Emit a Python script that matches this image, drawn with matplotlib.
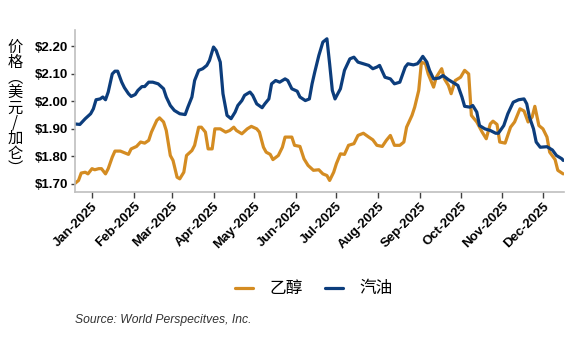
import matplotlib
matplotlib.use("Agg")
import matplotlib.pyplot as plt
import matplotlib.dates as mdates
import pandas as pd

plt.rcParams["font.family"] = ["Liberation Sans", "Noto Sans CJK SC"]

# days counted from 2025-01-01, values in $/gal
gas_days = [-13, -9, -5, -1, 1, 3, 6, 8, 10, 12, 15, 17, 19, 22, 24, 27, 29, 32, 34, 37,
            39, 42, 45, 49, 53, 55, 58, 61, 65, 69, 71, 74, 76, 79, 82, 85, 87, 90, 92, 95,
            97, 100, 103, 106, 108, 111, 113, 117, 119, 122, 126, 128, 131, 133, 136, 139,
            143, 145, 148, 152, 154, 158, 161, 163, 165, 168, 171, 174, 176, 178, 180, 184,
            187, 191, 194, 197, 201, 205, 208, 211, 213, 217, 221, 224, 228, 232, 234, 238,
            241, 243, 245, 248, 250, 253, 257, 260, 264, 268, 271, 274, 276, 280, 282, 285,
            287, 291, 295, 299, 301, 305, 308, 312, 316, 320, 322, 324, 327, 329, 332, 337,
            341, 344, 348, 349]
gas_price = [1.918, 1.916, 1.937, 1.955, 1.973, 2.006, 2.009, 2.016, 2.006, 2.034, 2.100,
             2.110, 2.110, 2.070, 2.050, 2.028, 2.018, 2.025, 2.040, 2.054, 2.054, 2.070,
             2.070, 2.064, 2.046, 2.016, 1.985, 1.967, 1.955, 1.952, 1.979, 2.016, 2.076,
             2.113, 2.119, 2.131, 2.149, 2.198, 2.185, 2.143, 2.028, 1.949, 1.937, 1.961,
             1.985, 2.003, 2.022, 2.034, 2.022, 1.991, 1.977, 1.991, 2.009, 2.064, 2.076,
             2.070, 2.082, 2.076, 2.046, 2.037, 2.016, 2.003, 2.009, 2.064, 2.107, 2.167,
             2.216, 2.228, 2.137, 2.040, 2.009, 2.046, 2.113, 2.155, 2.161, 2.143, 2.137,
             2.131, 2.119, 2.125, 2.131, 2.088, 2.082, 2.064, 2.070, 2.125, 2.137, 2.133,
             2.137, 2.149, 2.164, 2.143, 2.113, 2.082, 2.085, 2.094, 2.079, 2.067, 2.058,
             2.016, 1.982, 1.979, 1.985, 1.961, 1.912, 1.900, 1.894, 1.884, 1.884, 1.912,
             1.955, 1.997, 2.006, 2.009, 1.991, 1.943, 1.900, 1.852, 1.833, 1.835, 1.823,
             1.803, 1.791, 1.785]

eth_days = [-13, -10, -8, -5, -3, 0, 2, 5, 7, 10, 12, 15, 17, 21, 23, 27, 29, 33, 36, 39,
            42, 44, 48, 50, 53, 55, 58, 60, 63, 65, 68, 70, 74, 76, 79, 81, 84, 86, 89, 91,
            95, 99, 102, 105, 107, 111, 115, 118, 122, 124, 127, 129, 132, 134, 138, 141,
            143, 148, 150, 154, 157, 160, 164, 168, 171, 174, 176, 179, 181, 184, 187, 190,
            194, 197, 201, 205, 208, 211, 215, 218, 221, 224, 228, 231, 233, 237, 239, 242,
            244, 247, 249, 253, 255, 259, 261, 264, 266, 269, 273, 276, 279, 281, 285, 289,
            292, 295, 297, 300, 302, 306, 310, 313, 317, 320, 323, 326, 328, 331, 334, 337,
            339, 343, 345, 349]
eth_price = [1.700, 1.712, 1.739, 1.742, 1.736, 1.755, 1.751, 1.755, 1.755, 1.736, 1.755,
             1.797, 1.819, 1.819, 1.815, 1.807, 1.827, 1.836, 1.852, 1.848, 1.858, 1.888,
             1.931, 1.940, 1.925, 1.894, 1.803, 1.785, 1.724, 1.718, 1.742, 1.803, 1.821,
             1.840, 1.906, 1.906, 1.888, 1.827, 1.827, 1.900, 1.900, 1.888, 1.894, 1.906,
             1.894, 1.882, 1.900, 1.909, 1.900, 1.888, 1.833, 1.815, 1.807, 1.788, 1.803,
             1.833, 1.870, 1.870, 1.840, 1.836, 1.791, 1.767, 1.749, 1.751, 1.736, 1.730,
             1.712, 1.742, 1.773, 1.809, 1.807, 1.840, 1.846, 1.876, 1.884, 1.870, 1.860,
             1.840, 1.836, 1.858, 1.876, 1.840, 1.840, 1.852, 1.906, 1.949, 1.979, 2.040,
             2.143, 2.137, 2.100, 2.052, 2.088, 2.119, 2.082, 2.058, 2.028, 2.076, 2.088,
             2.113, 2.100, 1.949, 1.925, 1.888, 1.864, 1.918, 1.928, 1.916, 1.852, 1.848,
             1.906, 1.925, 1.973, 1.965, 1.925, 1.943, 1.982, 1.912, 1.900, 1.870, 1.815,
             1.788, 1.749, 1.736]

y_ticks = [1.70, 1.80, 1.90, 2.00, 2.10, 2.20]
series_labels = ["乙醇", "汽油"]
# vertical axis title, one glyph per row (vertical-form brackets)
ylabel_chars = ["价", "格", "︵", "美", "元", "/", "加", "仑", "︶"]
source_note = "Source: World Perspecitves, Inc."

ETH_COLOR = "#D48C22"
GAS_COLOR = "#0C3D7C"
SPINE = "#BFBFBF"

base = pd.Timestamp("2025-01-01")
gas_x = base + pd.to_timedelta(gas_days, unit="D")
eth_x = base + pd.to_timedelta(eth_days, unit="D")

W, H = 574, 353
fig = plt.figure(figsize=(W / 100, H / 100), dpi=100)
ax = fig.add_axes([75 / W, 1 - 192 / H, (564 - 75) / W, (192 - 30) / H])

ax.plot(eth_x, eth_price, color=ETH_COLOR, lw=2.3, label=series_labels[0],
        solid_joinstyle="round", solid_capstyle="round")
ax.plot(gas_x, gas_price, color=GAS_COLOR, lw=2.3, label=series_labels[1],
        solid_joinstyle="round", solid_capstyle="round")

ax.set_xlim(base + pd.Timedelta(days=-12.6), base + pd.Timedelta(days=349.6))
ax.set_ylim(1.67, 2.26)

ax.set_yticks(y_ticks)
ax.set_yticklabels([f"${v:.2f}" for v in y_ticks], fontsize=9.5, fontweight="bold")

ax.xaxis.set_major_locator(mdates.MonthLocator())
ax.xaxis.set_major_formatter(mdates.DateFormatter("%b-%Y"))
for lbl in ax.get_xticklabels():
    lbl.set_rotation(45)
    lbl.set_ha("right")
    lbl.set_rotation_mode("anchor")
    lbl.set_fontsize(9.5)
    lbl.set_fontweight("bold")

for side in ("top", "right"):
    ax.spines[side].set_visible(False)
for side in ("left", "bottom"):
    ax.spines[side].set_color(SPINE)
    ax.spines[side].set_linewidth(1.2)
ax.tick_params(axis="x", length=4, width=1, color="#404040", pad=2)
ax.tick_params(axis="y", length=3, width=1, color="#404040", pad=2)

# stacked upright characters for the y title
fig.text(15 / W, 1 - 108 / H, "\n".join(ylabel_chars), ha="center", va="center",
         fontsize=11, linespacing=0.86, family=["Noto Sans CJK SC", "DejaVu Sans"])

handles, labels = ax.get_legend_handles_labels()
fig.legend(handles, labels, loc="center", bbox_to_anchor=(314 / W, 1 - 289 / H),
           ncol=2, frameon=False, handlelength=1.1, handletextpad=1.0,
           columnspacing=1.3, prop={"family": "Noto Sans CJK SC", "size": 12})

fig.text(75 / W, 1 - 320 / H, source_note, ha="left", va="center",
         fontsize=8.7, style="italic", color="#333333")

fig.savefig("out.png", dpi=100)
